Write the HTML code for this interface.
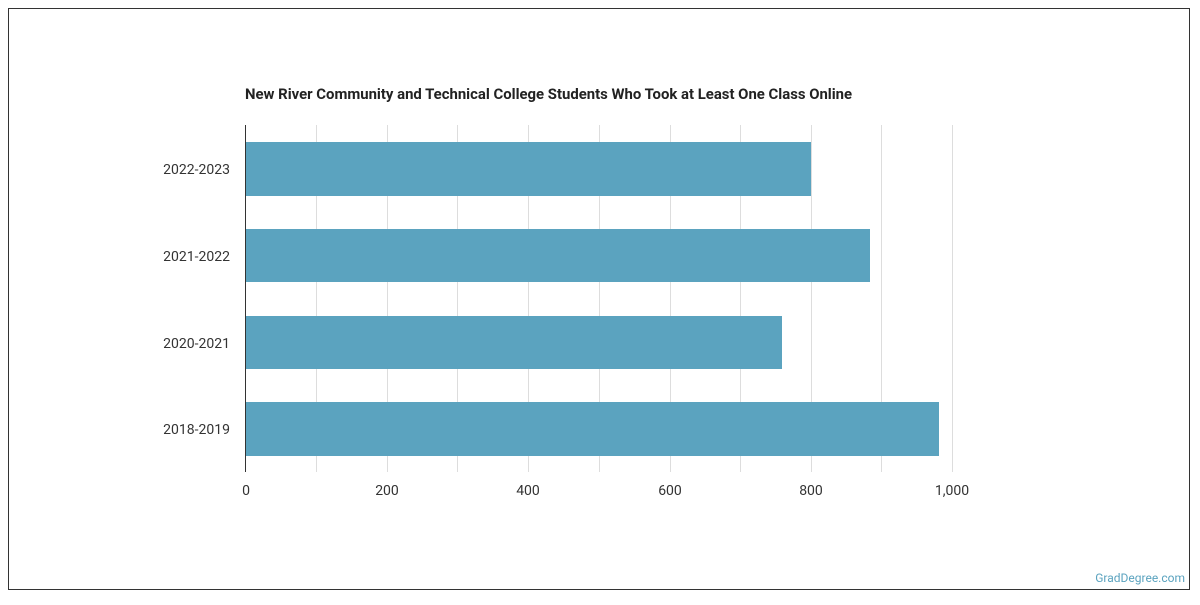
<!DOCTYPE html>
<html><head><style>
html,body{margin:0;padding:0;background:#fff;}
</style></head><body>
<svg width="1200" height="600" xmlns="http://www.w3.org/2000/svg" font-family="Roboto, 'Liberation Sans', sans-serif">
<rect x="8.5" y="8.5" width="1181" height="581" fill="#fff" stroke="#333" stroke-width="1"/>
<text x="245" y="99" font-size="14.9" font-weight="bold" fill="#222">New River Community and Technical College Students Who Took at Least One Class Online</text>
<g stroke="#ddd" stroke-width="1">
<line x1="316.5" y1="125" x2="316.5" y2="472"/>
<line x1="387.5" y1="125" x2="387.5" y2="472"/>
<line x1="457.5" y1="125" x2="457.5" y2="472"/>
<line x1="528.5" y1="125" x2="528.5" y2="472"/>
<line x1="599.5" y1="125" x2="599.5" y2="472"/>
<line x1="670.5" y1="125" x2="670.5" y2="472"/>
<line x1="740.5" y1="125" x2="740.5" y2="472"/>
<line x1="811.5" y1="125" x2="811.5" y2="472"/>
<line x1="881.5" y1="125" x2="881.5" y2="472"/>
<line x1="952.5" y1="125" x2="952.5" y2="472"/>
</g>
<g fill="#5ba3bf">
<rect x="245" y="142" width="566" height="54"/>
<rect x="245" y="229" width="625" height="53"/>
<rect x="245" y="316" width="537" height="53"/>
<rect x="245" y="402" width="694" height="54"/>
</g>
<line x1="245.5" y1="125" x2="245.5" y2="472" stroke="#333" stroke-width="1"/>
<g font-size="14" fill="#333" text-anchor="end">
<text x="230" y="174">2022-2023</text>
<text x="230" y="261">2021-2022</text>
<text x="230" y="348">2020-2021</text>
<text x="230" y="434">2018-2019</text>
</g>
<g font-size="14" fill="#333" text-anchor="middle">
<text x="246" y="495">0</text>
<text x="387" y="495">200</text>
<text x="528" y="495">400</text>
<text x="670" y="495">600</text>
<text x="811" y="495">800</text>
<text x="952" y="495">1,000</text>
</g>
<text x="1185" y="582" font-size="12" fill="#5ba3bf" text-anchor="end">GradDegree.com</text>
</svg>
</body></html>
